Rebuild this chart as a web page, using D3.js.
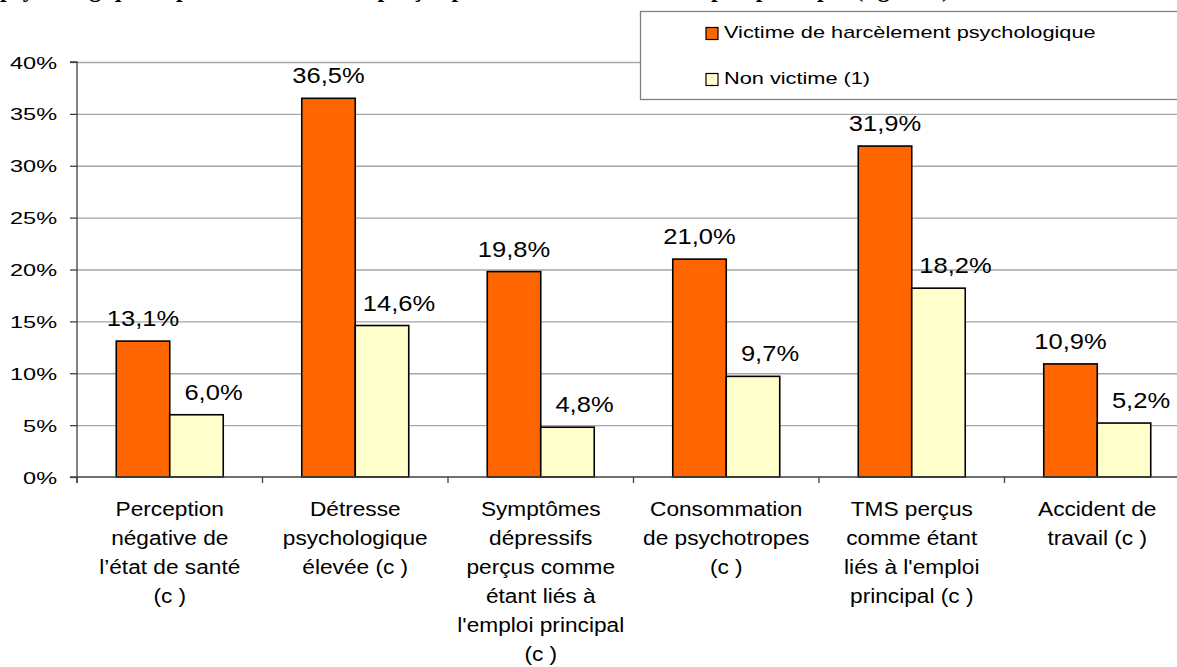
<!DOCTYPE html>
<html>
<head>
<meta charset="utf-8">
<script src="https://cdn.jsdelivr.net/npm/d3@7"></script>
<style>
  html, body { margin: 0; padding: 0; background: #fff; overflow: hidden; }
  svg { display: block; }
  text { font-family: "Liberation Sans", Arial, sans-serif; fill: #000; }
</style>
</head>
<body>
<svg id="chart" width="1177" height="667"></svg>
<script>
// ---- data ----
const titleText = "psychologique et problèmes de santé perçus par les salariés selon l'emploi principal (figure 3)";
const categories = [
  "Perception\nnégative de\nl’état de santé\n(c )",
  "Détresse\npsychologique\nélevée (c )",
  "Symptômes\ndépressifs\nperçus comme\nétant liés à\nl'emploi principal\n(c )",
  "Consommation\nde psychotropes\n(c )",
  "TMS perçus\ncomme étant\nliés à l'emploi\nprincipal (c )",
  "Accident de\ntravail (c )"
];
const seriesNames = ["Victime de harcèlement psychologique", "Non victime (1)"];
const victimValues = [13.1, 36.5, 19.8, 21.0, 31.9, 10.9];
const nonVictimValues = [6.0, 14.6, 4.8, 9.7, 18.2, 5.2];
const yTickValues = [0, 5, 10, 15, 20, 25, 30, 35, 40];
const seriesColors = ["#FF6600", "#FFFFCC"];

// ---- layout ----
const svg = d3.select("#chart");
const plot = { left: 77, right: 1190, top: 62, bottom: 477 };

const x0 = d3.scaleBand().domain(categories).range([plot.left, plot.right]).paddingInner(0).paddingOuter(0);
const x1 = d3.scaleBand().domain(seriesNames).range([0, x0.bandwidth()]).paddingInner(0).paddingOuter(0.734);
const y = d3.scaleLinear().domain([0, 40]).range([plot.bottom, plot.top]);
const color = d3.scaleOrdinal().domain(seriesNames).range(seriesColors);

const rows = categories.map((c, i) => ({
  cat: c,
  vals: [
    { s: seriesNames[0], v: victimValues[i] },
    { s: seriesNames[1], v: nonVictimValues[i] }
  ]
}));

// title (cut off at the top like the reference)
svg.append("text")
  .attr("x", 0).attr("y", -3)
  .style("font-family", "'Liberation Serif', 'Times New Roman', serif")
  .style("font-weight", "bold")
  .style("font-size", "24px")
  .text(titleText);

// gridlines
svg.append("g")
  .attr("transform", `translate(${plot.left},0)`)
  .call(d3.axisLeft(y).tickValues(yTickValues.filter(d => d > 0)).tickSize(-(plot.right - plot.left)).tickFormat(""))
  .call(g => g.select(".domain").remove())
  .call(g => g.selectAll("line").attr("stroke", "#a6a6a6").attr("stroke-width", 1.3));

// bars
const groups = svg.append("g").selectAll("g").data(rows).join("g")
  .attr("transform", d => `translate(${x0(d.cat)},0)`);

groups.selectAll("rect").data(d => d.vals).join("rect")
  .attr("x", d => x1(d.s))
  .attr("y", d => y(d.v))
  .attr("width", x1.bandwidth())
  .attr("height", d => y(0) - y(d.v))
  .attr("fill", d => color(d.s))
  .attr("stroke", "#000")
  .attr("stroke-width", 1.6);

// value labels
const fmt = v => d3.format(".1f")(v).replace(".", ",") + "%";
groups.selectAll("text.val").data(d => d.vals).join("text")
  .attr("class", "val")
  .attr("text-anchor", "middle")
  .attr("transform", (d, i) => `translate(${x1(d.s) + x1.bandwidth() / 2 + (i === 1 ? 17 : 0)},${y(d.v) - 15}) scale(1.16,1)`)
  .style("font-size", "22px")
  .text(d => fmt(d.v));

// y axis
const yAxis = svg.append("g")
  .attr("transform", `translate(${plot.left},0)`)
  .call(d3.axisLeft(y).tickValues(yTickValues).tickSize(7).tickFormat(d => d + "%"));
yAxis.select(".domain").attr("stroke", "#404040").attr("stroke-width", 1.3)
  .attr("d", `M-7,${plot.top}H0V${plot.bottom + 6}`);
yAxis.selectAll(".tick line").attr("stroke", "#404040").attr("stroke-width", 1.3);
yAxis.selectAll(".tick text")
  .attr("x", null).attr("dy", null)
  .attr("text-anchor", "end")
  .attr("transform", "translate(-20,6.1) scale(1.38,1)")
  .style("font-size", "17px")
  .style("font-family", "'Liberation Sans', Arial, sans-serif")
  .attr("fill", "#000");

// x axis
const xAxis = svg.append("g")
  .attr("transform", `translate(0,${plot.bottom})`)
  .call(d3.axisBottom(x0).tickSize(0).tickFormat(""));
xAxis.select(".domain").attr("stroke", "#404040").attr("stroke-width", 1.3)
  .attr("d", `M${plot.left - 7},0H${plot.right}`);
xAxis.selectAll(".tick line").remove();
// boundary ticks between categories
xAxis.append("g").selectAll("line")
  .data(categories.concat([null]))
  .join("line")
  .attr("x1", (d, i) => plot.left + i * x0.step())
  .attr("x2", (d, i) => plot.left + i * x0.step())
  .attr("y1", 0).attr("y2", 6)
  .attr("stroke", "#404040").attr("stroke-width", 1.3);

// category labels
const catLabels = svg.append("g").selectAll("text").data(categories).join("text")
  .attr("text-anchor", "middle")
  .attr("transform", d => `translate(${x0(d) + x0.bandwidth() / 2},516) scale(1.08,1)`)
  .style("font-size", "21px");
catLabels.each(function(d) {
  d3.select(this).selectAll("tspan").data(d.split("\n")).join("tspan")
    .attr("x", 0)
    .attr("y", (t, i) => i * 29.1)
    .text(t => t);
});

// legend
const legend = svg.append("g");
legend.append("rect")
  .attr("x", 640.5).attr("y", 11.5)
  .attr("width", 600).attr("height", 88)
  .attr("fill", "#fff").attr("stroke", "#808080").attr("stroke-width", 1.3);
const legItems = legend.selectAll("g").data(seriesNames).join("g")
  .attr("transform", (d, i) => `translate(706,${27.5 + i * 46})`);
legItems.append("rect")
  .attr("x", 0).attr("y", 0).attr("width", 12).attr("height", 12)
  .attr("fill", d => color(d)).attr("stroke", "#000").attr("stroke-width", 1.2);
legItems.append("text")
  .attr("transform", "translate(18,10.5) scale(1.31,1)")
  .style("font-size", "16.6px")
  .text(d => d);
</script>
</body>
</html>
